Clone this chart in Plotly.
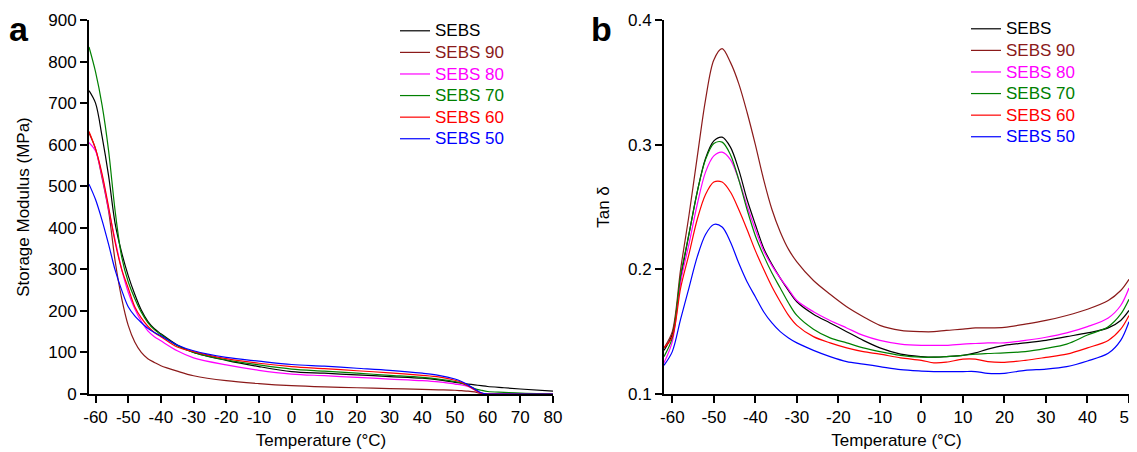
import plotly.graph_objects as go

# ---------------- data: panel a (storage modulus) ----------------
temp_a = [-62, -60, -58, -56, -54, -52, -50, -48, -46, -44, -42, -40, -35, -30, -20, -10,
          0, 10, 20, 30, 40, 45, 50, 52, 54, 56, 58, 60, 65, 70, 80]
mod_sebs = [730, 700, 620, 525, 410, 340, 285, 240, 202, 175, 157, 145, 118, 100, 81, 66,
            54, 50, 46, 42, 38, 34, 28, 26, 24, 22, 20, 18, 15, 12, 7]
mod_sebs90 = [628, 590, 520, 440, 320, 230, 165, 125, 100, 85, 76, 68, 55, 44, 32, 25,
              20, 17, 15, 13, 11, 10, 9, 8, 7, 5, 1, 0, 0, 0, 0]
mod_sebs80 = [605, 585, 525, 445, 370, 300, 245, 205, 175, 152, 138, 128, 104, 87, 70, 57,
              48, 44, 40, 36, 32, 29, 24, 22, 18, 10, 2, 0, 0, 0, 0]
mod_sebs70 = [835, 775, 695, 585, 440, 330, 270, 230, 197, 172, 155, 143, 116, 100, 82, 70,
              60, 55, 50, 45, 40, 36, 30, 26, 20, 13, 9, 6, 4, 2, 0]
mod_sebs60 = [632, 590, 530, 450, 365, 300, 255, 210, 183, 163, 148, 138, 113, 102, 85, 74,
              66, 61, 56, 51, 45, 41, 33, 28, 20, 10, 2, 0, 0, 0, 0]
mod_sebs50 = [505, 468, 418, 360, 298, 250, 210, 188, 172, 158, 148, 140, 118, 104, 88, 79,
              71, 67, 62, 57, 50, 45, 36, 30, 22, 12, 3, 0, 0, 0, 0]

# ---------------- data: panel b (tan delta) ----------------
temp_b = [-62, -60, -58, -56, -54, -52, -50, -48, -46, -44, -42, -40, -38, -36, -34, -32, -30,
          -26, -22, -18, -14, -10, -5, 0, 3, 6, 10, 13, 16, 20, 25, 30, 35, 40, 45, 48, 50]
tan_sebs = [0.135, 0.148, 0.192, 0.228, 0.262, 0.289, 0.303, 0.306, 0.298, 0.280, 0.256, 0.236,
            0.217, 0.204, 0.193, 0.183, 0.174, 0.164, 0.157, 0.150, 0.143, 0.137, 0.132, 0.130,
            0.1295, 0.130, 0.131, 0.133, 0.136, 0.139, 0.141, 0.143, 0.146, 0.149, 0.153, 0.159, 0.167]
tan_sebs90 = [0.137, 0.150, 0.200, 0.243, 0.290, 0.336, 0.368, 0.377, 0.366, 0.349, 0.326, 0.300,
              0.272, 0.248, 0.230, 0.216, 0.206, 0.191, 0.180, 0.170, 0.162, 0.155, 0.151, 0.150,
              0.150, 0.151, 0.152, 0.153, 0.153, 0.1535, 0.156, 0.159, 0.163, 0.168, 0.175, 0.183, 0.192]
tan_sebs80 = [0.125, 0.142, 0.190, 0.220, 0.252, 0.278, 0.291, 0.294, 0.288, 0.272, 0.251, 0.232,
              0.215, 0.203, 0.193, 0.184, 0.175, 0.166, 0.159, 0.153, 0.147, 0.143, 0.140, 0.139,
              0.139, 0.139, 0.140, 0.1405, 0.141, 0.141, 0.143, 0.1455, 0.149, 0.154, 0.161, 0.171, 0.185]
tan_sebs70 = [0.130, 0.145, 0.195, 0.228, 0.262, 0.288, 0.301, 0.302, 0.292, 0.272, 0.248, 0.227,
              0.211, 0.197, 0.185, 0.173, 0.163, 0.152, 0.145, 0.141, 0.137, 0.134, 0.131, 0.1295,
              0.1295, 0.130, 0.131, 0.132, 0.1325, 0.133, 0.134, 0.1366, 0.140, 0.1473, 0.154, 0.164, 0.176]
tan_sebs60 = [0.137, 0.146, 0.185, 0.212, 0.240, 0.260, 0.270, 0.270, 0.262, 0.248, 0.232, 0.215,
              0.200, 0.186, 0.174, 0.163, 0.155, 0.146, 0.141, 0.137, 0.134, 0.132, 0.129, 0.127,
              0.125, 0.1255, 0.128, 0.128, 0.126, 0.1254, 0.127, 0.1294, 0.132, 0.137, 0.143, 0.152, 0.163]
tan_sebs50 = [0.123, 0.134, 0.160, 0.185, 0.210, 0.228, 0.236, 0.234, 0.222, 0.205, 0.190, 0.178,
              0.166, 0.157, 0.150, 0.145, 0.141, 0.135, 0.130, 0.126, 0.124, 0.122, 0.1195, 0.1184,
              0.118, 0.118, 0.118, 0.118, 0.1165, 0.1166, 0.119, 0.120, 0.122, 0.1265, 0.1326, 0.143, 0.158]

# ---------------- tick labels ----------------
ticks_a_x = list(range(-60, 81, 10))
ticks_a_y = list(range(0, 901, 100))
ticks_b_x = list(range(-60, 51, 10))
ticks_b_y = [0.1, 0.2, 0.3, 0.4]
labels_b_y = ["0.1", "0.2", "0.3", "0.4"]

names = ["SEBS", "SEBS 90", "SEBS 80", "SEBS 70", "SEBS 60", "SEBS 50"]
colors = ["#000000", "#8B1A1A", "#FF00FF", "#008000", "#FF0000", "#0000FF"]
mod_series = [mod_sebs, mod_sebs90, mod_sebs80, mod_sebs70, mod_sebs60, mod_sebs50]
tan_series = [tan_sebs, tan_sebs90, tan_sebs80, tan_sebs70, tan_sebs60, tan_sebs50]

FONT = "Liberation Sans, Arial, sans-serif"
W, H = 1137, 452
OFF = 8                     # page body margin of the html page
ML, MR, MT, MB = 2, 16, 12, 66
PW, PH = W - ML - MR, H - MT - MB


def px(xp):  # page pixel -> paper x
    return (xp - OFF - ML) / PW


def py(yp):  # page pixel -> paper y
    return 1 - (yp - OFF - MT) / PH


fig = go.Figure()
for nm, col, ys in zip(names, colors, mod_series):
    fig.add_trace(go.Scatter(
        x=temp_a, y=ys, mode="lines", xaxis="x", yaxis="y",
        line=dict(color=col, width=1.2, shape="spline", smoothing=0.9),
        name=f"<span style='color:{col};font-size:17px'>{nm}</span>", legend="legend"))
for nm, col, ys in zip(names, colors, tan_series):
    fig.add_trace(go.Scatter(
        x=temp_b, y=ys, mode="lines", xaxis="x2", yaxis="y2",
        line=dict(color=col, width=1.2, shape="spline", smoothing=0.9),
        name=f"<span style='color:{col};font-size:17px'>{nm}</span>", legend="legend2"))

axis_common = dict(showline=True, linecolor="black", linewidth=2, ticks="outside",
                   ticklen=7, tickwidth=1.5, tickcolor="black", showgrid=False,
                   zeroline=False, automargin=False, tickmode="array",
                   tickfont=dict(family=FONT, size=17, color="black"))

legend_common = dict(xanchor="left", yanchor="top", bgcolor="rgba(0,0,0,0)",
                     font=dict(family=FONT, size=14.3, color="black"),
                     tracegroupgap=0, itemwidth=30, borderwidth=0)

fig.update_layout(
    width=W, height=H, margin=dict(l=ML, r=MR, t=MT, b=MB, autoexpand=False),
    paper_bgcolor="white", plot_bgcolor="white",
    font=dict(family=FONT, color="black"),
    xaxis=dict(domain=[px(89), px(553)], range=[-62, 80],
               tickvals=ticks_a_x, ticktext=[str(v) for v in ticks_a_x],
               anchor="y", ticklabeloverflow="allow",
               title=dict(text="Temperature (°C)", font=dict(size=17), standoff=8),
               **axis_common),
    yaxis=dict(domain=[0, 1], range=[0, 900],
               tickvals=ticks_a_y, ticktext=[str(v) for v in ticks_a_y], anchor="x",
               title=dict(text="Storage Modulus (MPa)", font=dict(size=17), standoff=14),
               **axis_common),
    xaxis2=dict(domain=[px(664), px(1129)], range=[-62, 50],
                tickvals=ticks_b_x, ticktext=[str(v) for v in ticks_b_x],
                anchor="y2", ticklabeloverflow="allow",
                title=dict(text="Temperature (°C)", font=dict(size=17), standoff=8),
                **axis_common),
    yaxis2=dict(domain=[0, 1], range=[0.1, 0.4],
                tickvals=ticks_b_y, ticktext=labels_b_y, anchor="x2",
                title=dict(text="Tan δ", font=dict(size=17), standoff=14),
                **axis_common),
    legend=dict(x=px(395), y=py(15), **legend_common),
    legend2=dict(x=px(966), y=py(13), **legend_common),
    annotations=[
        dict(text="<b>a</b>", x=px(19), y=py(OFF), xref="paper", yref="paper",
             xanchor="center", yanchor="top", showarrow=False,
             font=dict(family=FONT, size=34, color="black")),
        dict(text="<b>b</b>", x=px(601), y=py(OFF), xref="paper", yref="paper",
             xanchor="center", yanchor="top", showarrow=False,
             font=dict(family=FONT, size=34, color="black")),
    ],
)

fig.write_html("out.html")
